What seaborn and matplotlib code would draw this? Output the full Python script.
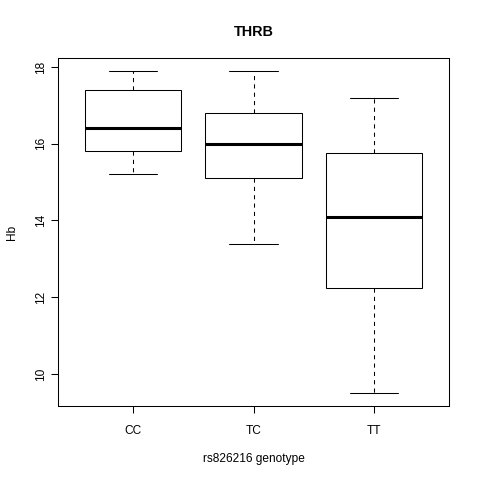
#!/usr/bin/env python3
"""THRB boxplot: Hb by rs826216 genotype (base-R look)."""

import matplotlib

matplotlib.use("Agg")
import matplotlib.pyplot as plt
import pandas as pd
import seaborn as sns

# five-number summaries (min, Q1, median, Q3, max)
GENOTYPES = ["CC", "TC", "TT"]
CC_HB = [15.2, 15.8, 16.4, 17.4, 17.9]
TC_HB = [13.4, 15.1, 16.0, 16.8, 17.9]
TT_HB = [9.5, 12.25, 14.1, 15.75, 17.2]
Y_TICKS = [10, 12, 14, 16, 18]


def build_frame() -> pd.DataFrame:
    rows = []
    for g, vals in zip(GENOTYPES, [CC_HB, TC_HB, TT_HB]):
        rows += [{"genotype": g, "Hb": v} for v in vals]
    return pd.DataFrame(rows)


def main() -> None:
    sns.set_style("white", {
        "text.color": "black",
        "axes.labelcolor": "black",
        "xtick.color": "black",
        "ytick.color": "black",
        "axes.edgecolor": "black",
    })
    plt.rcParams["font.family"] = ["Liberation Sans", "DejaVu Sans"]

    df = build_frame()
    fig = plt.figure(figsize=(4.8, 4.8), dpi=100)
    ax = fig.add_axes([58 / 480, 1 - 406 / 480, 391 / 480, 348 / 480])

    sns.boxplot(
        data=df,
        x="genotype",
        y="Hb",
        order=GENOTYPES,
        whis=(0, 100),
        width=0.8,
        color="white",
        linecolor="black",
        linewidth=0.75,
        showfliers=False,
        medianprops=dict(linewidth=2.2, color="black"),
        whiskerprops=dict(linestyle=(0, (4, 4)), color="black"),
        capprops=dict(color="black"),
        ax=ax,
    )

    lo, hi = min(TT_HB), max(CC_HB)
    ext = (hi - lo) * 0.04
    ax.set_ylim(lo - ext, hi + ext)
    ax.set_xlim(-0.5 - 0.12, len(GENOTYPES) - 0.5 + 0.12)
    ax.set_yticks(Y_TICKS)
    ax.set_yticklabels([str(t) for t in Y_TICKS], rotation=90, va="center")

    for s in ax.spines.values():
        s.set_color("black")
        s.set_linewidth(0.75)
    ax.tick_params(axis="both", direction="out", length=5, width=0.75,
                   color="black", labelcolor="black", labelsize=8.6,
                   left=True, bottom=True)
    ax.tick_params(axis="x", pad=9)
    ax.tick_params(axis="y", pad=3)

    ax.set_xlabel("rs826216 genotype", fontsize=8.6, labelpad=11.5, color="black")
    ax.set_ylabel("Hb", fontsize=8.6, labelpad=12.5, color="black")
    ax.set_title("THRB", fontsize=10.4, fontweight="bold", pad=15.5, color="black")

    fig.savefig("out.png", dpi=100, facecolor="white")
    plt.close(fig)


if __name__ == "__main__":
    main()
